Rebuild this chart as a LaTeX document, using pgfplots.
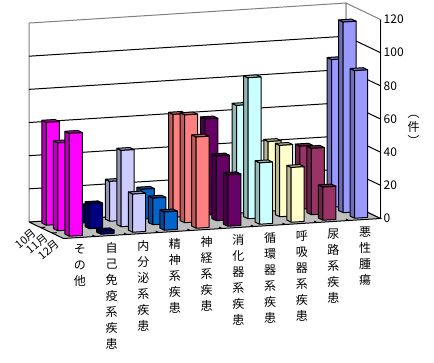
\documentclass[border=0pt]{standalone}
\usepackage{pgfplots}
\pgfplotsset{compat=1.18}
\usepackage{fontspec}
\setmainfont{Noto Sans CJK JP}
\definecolor{c0}{HTML}{FF00FF}\definecolor{c1}{HTML}{000080}
\definecolor{c2}{HTML}{CCCCFF}\definecolor{c3}{HTML}{0066CC}
\definecolor{c4}{HTML}{FF8080}\definecolor{c5}{HTML}{660066}
\definecolor{c6}{HTML}{CCFFFF}\definecolor{c7}{HTML}{FFFFCC}
\definecolor{c8}{HTML}{993366}\definecolor{c9}{HTML}{9999FF}
% #1 category, #2 month (0 back .. 2 front), #3 value
\newcommand\Bar[3]{%
  \pgfmathsetmacro\xa{#1+0.295}\pgfmathsetmacro\xb{#1+0.705}%
  \pgfmathsetmacro\ya{#2+0.305}\pgfmathsetmacro\yb{#2+0.695}%
  \edef\temp{%
  \noexpand\addplot3[fill=c#1!72!black,draw=black,line width=1pt,line join=round] coordinates {(\xa,\ya,0)(\xa,\yb,0)(\xa,\yb,#3)(\xa,\ya,#3)(\xa,\ya,0)};
  \noexpand\addplot3[fill=c#1!72!black,draw=black,line width=1pt,line join=round] coordinates {(\xa,\ya,#3)(\xa,\yb,#3)(\xb,\yb,#3)(\xb,\ya,#3)(\xa,\ya,#3)};
  \noexpand\addplot3[fill=c#1,draw=black,line width=1pt,line join=round] coordinates {(\xa,\yb,0)(\xb,\yb,0)(\xb,\yb,#3)(\xa,\yb,#3)(\xa,\yb,0)};
  }\temp}
\begin{document}
\begin{tikzpicture}[x=1pt,y=1pt]
\useasboundingbox (0,0) rectangle (434,-363);
\begin{axis}[at={(29pt,-222pt)},anchor=origin,
  x={(31.7pt,2pt)},y={(11.5pt,-5.5pt)},z={(0pt,1.658pt)},
  xmin=0,xmax=10,ymin=0,ymax=3,zmin=0,zmax=120,
  clip=false,axis on top,
  axis line style={draw=none},
  tick style={draw=none},
  mark=none,no markers,
  xtick={0.5,1.5,...,9.5},
  ytick={0.5,1.5,2.5},
  ztick={0,20,...,120},
  xticklabels={
    そ\\の\\他,
    自\\己\\免\\疫\\系\\疾\\患,
    内\\分\\泌\\系\\疾\\患,
    精\\神\\系\\疾\\患,
    神\\経\\系\\疾\\患,
    消\\化\\器\\系\\疾\\患,
    循\\環\\器\\系\\疾\\患,
    呼\\吸\\器\\系\\疾\\患,
    尿\\路\\系\\疾\\患,
    悪\\性\\腫\\瘍},
  yticklabels={10月,11月,12月},
  xticklabel style={align=center,font=\fontsize{12}{16}\selectfont,anchor=north,inner sep=0pt,yshift=-7pt,xshift=0.5pt},
  yticklabel style={font=\fontsize{11}{11}\selectfont,rotate=40,anchor=east,inner sep=0pt,xshift=-4pt,yshift=-5pt},
  zticklabel style={font=\fontsize{12}{12}\selectfont,inner sep=0pt,anchor=west,xshift=3pt},
  /pgf/number format/assume math mode=true,
  zticklabel pos=right,
  zlabel={︵\\件\\︶},
  every axis z label/.style={at={(axis cs:10,3,60)},xshift=33pt,yshift=-11pt,anchor=center,rotate=0,align=center,font=\fontsize{12}{14}\selectfont},
]
% walls and floor
\addplot3[fill=white,draw=gray,line width=1pt] coordinates {(0,0,0)(10,0,0)(10,0,120)(0,0,120)(0,0,0)};
\addplot3[fill=white,draw=gray,line width=1pt] coordinates {(10,0,0)(10,3,0)(10,3,120)(10,0,120)(10,0,0)};
\addplot3[fill=black!25,draw=black,line width=1pt] coordinates {(0,0,0)(10,0,0)(10,3,0)(0,3,0)(0,0,0)};
\pgfplotsinvokeforeach{20,40,...,100}{
  \addplot3[black,line width=1pt] coordinates {(0,0,#1)(10,0,#1)(10,3,#1)};
}
\addplot3[black,line width=1pt] coordinates {(10,3,0)(10,3,120)};
\pgfplotsinvokeforeach{1,...,9}{
  \addplot3[black,line width=1pt] coordinates {(#1,3,0)(#1,2.75,0)};
}
\pgfplotsinvokeforeach{1,2}{
  \addplot3[black,line width=1pt] coordinates {(0,#1,0)(0.15,#1,0)};
}
% bars: back row first, right to left
\Bar{9}{0}{89}\Bar{8}{0}{38}\Bar{7}{0}{42}\Bar{6}{0}{65}\Bar{5}{0}{58}
\Bar{4}{0}{62}\Bar{3}{0}{18}\Bar{2}{0}{24}\Bar{1}{0}{10}\Bar{0}{0}{62}
\Bar{9}{1}{115}\Bar{8}{1}{40}\Bar{7}{1}{43}\Bar{6}{1}{85}\Bar{5}{1}{39}
\Bar{4}{1}{65}\Bar{3}{1}{16}\Bar{2}{1}{46}\Bar{1}{1}{15}\Bar{0}{1}{53}
\Bar{9}{2}{89}\Bar{8}{2}{20}\Bar{7}{2}{33}\Bar{6}{2}{37}\Bar{5}{2}{31}
\Bar{4}{2}{55}\Bar{3}{2}{11}\Bar{2}{2}{23}\Bar{1}{2}{2}\Bar{0}{2}{62}
\end{axis}
\end{tikzpicture}
\end{document}
